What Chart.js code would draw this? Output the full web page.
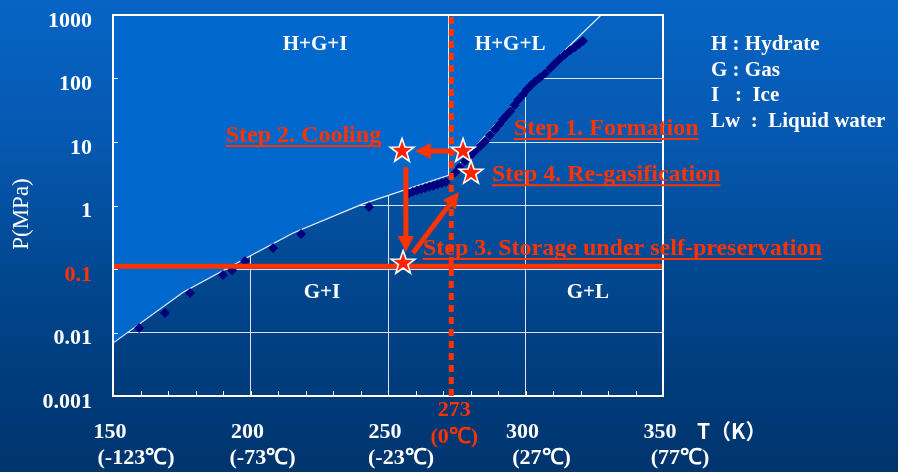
<!DOCTYPE html>
<html>
<head>
<meta charset="utf-8">
<script src="https://cdn.jsdelivr.net/npm/chart.js@4.4.0/dist/chart.umd.min.js"></script>
<style>
html,body{margin:0;padding:0;}
body{width:898px;height:472px;overflow:hidden;
  background:linear-gradient(to bottom,#0764c4 0%,#0558b0 30%,#01468e 60%,#003a78 85%,#00356e 100%);}
#wrap{position:relative;width:898px;height:472px;}
</style>
</head>
<body>
<div id="wrap"><canvas id="c" width="898" height="472"></canvas></div>
<script>
// hydrate stability boundary (T in K, P in MPa)
const boundaryT = [150, 175.5, 199.8, 215.5, 240.9, 272, 282.4, 303.5, 327.5];
const boundaryP = [0.0068, 0.043, 0.16, 0.37, 1.06, 3.0, 9.0, 98, 1000];

// measured equilibrium points
const measT = [159.5, 168.9, 178, 190, 193.3, 198, 208.2, 218.4, 243.1,
  257.5, 259, 260.5, 262, 263.5, 265, 266.5, 268, 269.5, 271,
  274.4, 276, 278, 280, 281.6, 283.5, 285.3, 287, 288.9, 290.5, 291.8, 293, 294.4,
  296, 297.3, 299, 300.5, 302, 303.5, 305.3, 307.1, 309, 310.7, 312.5, 314.4,
  316.2, 318, 319.5, 320.9];
const measP = [0.0118, 0.0203, 0.042, 0.0805, 0.096, 0.134, 0.214, 0.356, 0.946,
  1.55, 1.63, 1.72, 1.80, 1.88, 1.97, 2.05, 2.15, 2.25, 2.35,
  3.3, 4.0, 5.0, 6.1, 7.2, 8.6, 10.2, 12.8, 15.8, 19, 22.6, 26, 30.2,
  38, 46, 55, 67, 78, 90, 104, 120, 145, 172, 205, 240,
  276, 310, 350, 390];

// process steps
const starT = [277.3, 255.1, 255.5, 280.2];
const starP = [7.2, 7.2, 0.124, 3.25];
const arrowFromT = [274.4, 256.5, 259.1];
const arrowFromP = [7.2, 4.0, 0.179];
const arrowToT = [259.8, 256.5, 275.8];
const arrowToP = [7.2, 0.185, 1.63];
const storageP = 0.11;
const meltT = 273;

const regionLabels = ['H+G+I', 'H+G+L', 'G+I', 'G+L'];
const regionT = [223.5, 294.4, 226, 322.7];
const regionP = [337, 337, 0.042, 0.042];

const stepLabels = ['Step 2. Cooling', 'Step 1. Formation', 'Step 4. Re-gasification', 'Step 3. Storage under self-preservation'];
const stepT = [247.5, 295.8, 287.8, 262.7];
const stepP = [12.4, 16, 3.0, 0.206];
const stepAlign = ['right', 'left', 'left', 'left'];

const xTicks = [150, 200, 250, 300, 350];
const xTickC = ['(-123℃)', '(-73℃)', '(-23℃)', '(27℃)', '(77℃)'];
const yTicks = [1000, 100, 10, 1, 0.1, 0.01, 0.001];
const legendLines = ['H : Hydrate', 'G : Gas', 'I   :  Ice', 'Lw  :  Liquid water'];

const RED = '#ff3300';
const SERIF = '"Liberation Serif", "Times New Roman", serif';

function xy(ts, ps) { return ts.map((t, i) => ({x: t, y: ps[i]})); }

function drawStar(ctx, x, y, R, r) {
  ctx.beginPath();
  for (let i = 0; i < 10; i++) {
    const a = -Math.PI / 2 + i * Math.PI / 5;
    const rr = i % 2 ? r : R;
    ctx.lineTo(x + rr * Math.cos(a), y + rr * Math.sin(a));
  }
  ctx.closePath();
  ctx.fillStyle = '#ff2200';
  ctx.fill();
  ctx.lineWidth = 1.6;
  ctx.strokeStyle = '#ffffff';
  ctx.stroke();
}

function arrow(ctx, x1, y1, x2, y2) {
  const a = Math.atan2(y2 - y1, x2 - x1);
  const hl = 16, hw = 8;
  const bx = x2 - hl * Math.cos(a), by = y2 - hl * Math.sin(a);
  ctx.strokeStyle = RED; ctx.fillStyle = RED; ctx.lineWidth = 5;
  ctx.beginPath(); ctx.moveTo(x1, y1); ctx.lineTo(bx, by); ctx.stroke();
  ctx.beginPath();
  ctx.moveTo(x2, y2);
  ctx.lineTo(bx + hw * Math.sin(a), by - hw * Math.cos(a));
  ctx.lineTo(bx - hw * Math.sin(a), by + hw * Math.cos(a));
  ctx.closePath(); ctx.fill();
}

const overlay = {
  id: 'overlay',
  afterDatasetsDraw(chart) {
    const ctx = chart.ctx, xs = chart.scales.x, ys = chart.scales.y, ca = chart.chartArea;
    ctx.save();
    // frame and small ticks
    ctx.strokeStyle = '#ffffff'; ctx.lineWidth = 2;
    ctx.strokeRect(ca.left, ca.top, ca.right - ca.left, ca.bottom - ca.top);
    ctx.lineWidth = 1;
    for (let t = 160; t < 350; t += 10) {
      const px = Math.round(xs.getPixelForValue(t)) + 0.5;
      ctx.beginPath(); ctx.moveTo(px, ca.bottom); ctx.lineTo(px, ca.bottom - 5); ctx.stroke();
    }
    yTicks.forEach(v => {
      const py = Math.round(ys.getPixelForValue(v)) + 0.5;
      ctx.beginPath(); ctx.moveTo(ca.left, py); ctx.lineTo(ca.left + 5, py); ctx.stroke();
    });
    // 273 K dotted line
    const mx = xs.getPixelForValue(meltT);
    ctx.strokeStyle = RED; ctx.lineWidth = 5; ctx.setLineDash([7, 5]);
    ctx.beginPath(); ctx.moveTo(mx, ca.top + 2); ctx.lineTo(mx, ca.bottom + 4); ctx.stroke();
    ctx.setLineDash([]);
    // arrows
    arrowFromT.forEach((t, i) => {
      arrow(ctx, xs.getPixelForValue(t), ys.getPixelForValue(arrowFromP[i]),
        xs.getPixelForValue(arrowToT[i]), ys.getPixelForValue(arrowToP[i]));
    });
    // stars
    starT.forEach((t, i) => drawStar(ctx, xs.getPixelForValue(t), ys.getPixelForValue(starP[i]), 12.5, 5));
    // region labels
    ctx.font = 'bold 21px ' + SERIF; ctx.fillStyle = '#ffffff';
    ctx.textAlign = 'center'; ctx.textBaseline = 'middle';
    regionLabels.forEach((s, i) => ctx.fillText(s, xs.getPixelForValue(regionT[i]), ys.getPixelForValue(regionP[i])));
    // step labels
    ctx.font = 'bold 24px ' + SERIF; ctx.fillStyle = RED; ctx.strokeStyle = RED; ctx.lineWidth = 2;
    stepLabels.forEach((s, i) => {
      const px = xs.getPixelForValue(stepT[i]), py = ys.getPixelForValue(stepP[i]);
      ctx.textAlign = stepAlign[i];
      ctx.fillText(s, px, py);
      const w = ctx.measureText(s).width;
      const x0 = stepAlign[i] === 'right' ? px - w : px;
      ctx.beginPath(); ctx.moveTo(x0, py + 10); ctx.lineTo(x0 + w, py + 10); ctx.stroke();
    });
    // y tick labels
    ctx.font = 'bold 22px ' + SERIF; ctx.textAlign = 'right';
    yTicks.forEach(v => {
      ctx.fillStyle = v === 0.1 ? RED : '#ffffff';
      ctx.fillText(String(v), 92, ys.getPixelForValue(v) + 6);
    });
    // x tick labels
    ctx.textAlign = 'center';
    const off2 = [23, 12, 13, 16, 17];
    xTicks.forEach((t, i) => {
      const px = xs.getPixelForValue(t);
      ctx.fillStyle = '#ffffff';
      ctx.fillText(String(t), px - 3, 432);
      ctx.fillText(xTickC[i], px + off2[i], 458);
    });
    ctx.fillStyle = RED;
    ctx.fillText(String(meltT), mx + 3, 410);
    ctx.fillText('(0℃)', mx + 3, 437);
    ctx.fillStyle = '#ffffff'; ctx.textAlign = 'left';
    ctx.font = 'bold 21px "Noto Sans CJK JP", sans-serif';
    ctx.fillText('T（K）', 697, 431);
    // axis title
    ctx.save();
    ctx.translate(22, 214); ctx.rotate(-Math.PI / 2);
    ctx.textAlign = 'center'; ctx.font = '23px ' + SERIF;
    ctx.fillText('P(MPa)', 0, 0);
    ctx.restore();
    // legend text
    ctx.font = 'bold 21px ' + SERIF; ctx.textAlign = 'left';
    legendLines.forEach((s, i) => ctx.fillText(s, 711, 45 + i * 25.5));
    ctx.restore();
  }
};

new Chart(document.getElementById('c'), {
  type: 'scatter',
  data: {
    datasets: [
      {
        type: 'line', data: [{x: 150, y: storageP}, {x: 350, y: storageP}],
        borderColor: RED, borderWidth: 5, pointRadius: 0, order: 1
      },
      {
        data: xy(measT, measP), pointStyle: 'rectRot', pointRadius: 5,
        backgroundColor: '#00007e', borderColor: '#00007e', borderWidth: 0, order: 5
      },
      {
        type: 'line', data: [{x: 272, y: 3.0}, {x: 272, y: 1000}],
        borderColor: '#ffffff', borderWidth: 1, pointRadius: 0, order: 8
      },
      {
        type: 'line', data: xy(boundaryT, boundaryP), fill: 'end',
        backgroundColor: '#0068cc', borderColor: '#e8f0ff', borderWidth: 1.2,
        pointRadius: 0, order: 10
      }
    ]
  },
  options: {
    responsive: false,
    animation: false,
    layout: {padding: {left: 113, right: 235, top: 15, bottom: 76}},
    plugins: {legend: {display: false}, tooltip: {enabled: false}},
    scales: {
      x: {
        type: 'linear', min: 150, max: 350,
        ticks: {display: false, stepSize: 50},
        grid: {color: 'rgba(255,255,255,0.85)', lineWidth: 1, drawTicks: false},
        border: {display: false},
        afterFit(s) { s.height = 0; }
      },
      y: {
        type: 'logarithmic', min: 0.001, max: 1000,
        ticks: {display: false},
        afterBuildTicks(s) { s.ticks = yTicks.map(v => ({value: v, major: true})); },
        grid: {color: 'rgba(255,255,255,0.85)', lineWidth: 1, drawTicks: false},
        border: {display: false},
        afterFit(s) { s.width = 0; }
      }
    }
  },
  plugins: [overlay]
});
</script>
</body>
</html>
